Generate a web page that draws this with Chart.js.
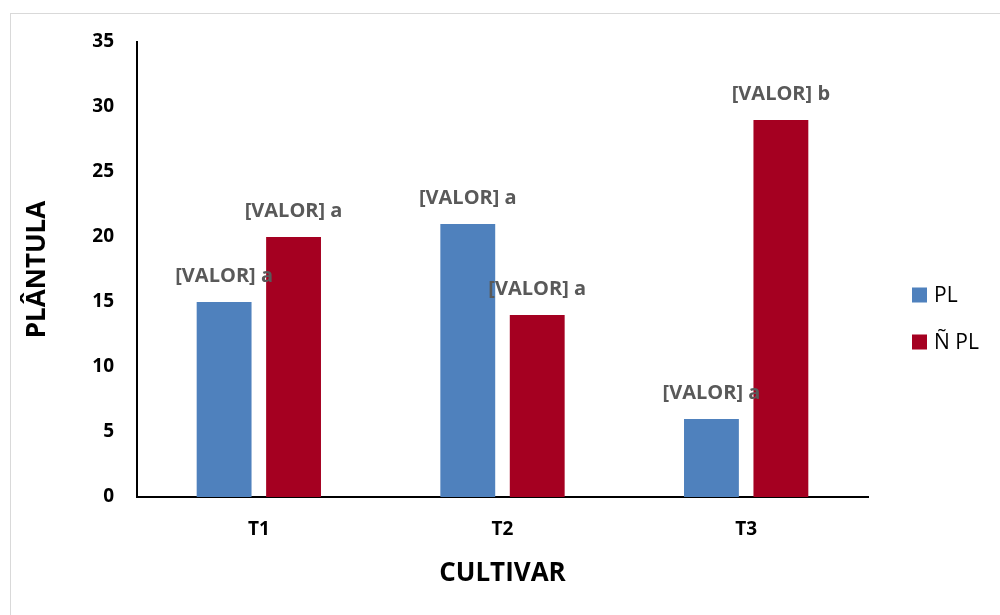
<!DOCTYPE html>
<html>
<head>
<meta charset="utf-8">
<script src="https://cdn.jsdelivr.net/npm/chart.js@4"></script>
<style>
  body { margin: 0; overflow: hidden; background: #fff; }
  #frame { position: absolute; left: 10px; top: 13px; width: 1000px; height: 700px; border: 1px solid #d9d9d9; }
  #wrap { position: absolute; left: 0; top: 0; width: 1000px; height: 615px; }
</style>
</head>
<body>
<div id="frame"></div>
<div id="wrap"><canvas id="chart" width="1000" height="615"></canvas></div>
<script>
// chart data
const categories = ['T1', 'T2', 'T3'];
const plValues = [15, 21, 6];
const nplValues = [20, 14, 29];
const plLetters = ['a', 'a', 'a'];
const nplLetters = ['a', 'a', 'b'];
const yTicks = [0, 5, 10, 15, 20, 25, 30, 35];

const FONT = '"Open Sans", Lato, sans-serif';

// draws "[VALOR] x" above each bar
const barLabels = {
  id: 'barLabels',
  afterDatasetsDraw(chart) {
    const ctx = chart.ctx;
    ctx.save();
    ctx.font = 'bold 20px ' + FONT;
    ctx.fillStyle = '#595959';
    ctx.textAlign = 'center';
    ctx.textBaseline = 'middle';
    chart.data.datasets.forEach((ds, i) => {
      const meta = chart.getDatasetMeta(i);
      meta.data.forEach((bar, j) => {
        ctx.fillText('[VALOR] ' + ds.letters[j], bar.x, bar.y - 26);
      });
    });
    ctx.restore();
  }
};

// simple legend on the right side
const sideLegend = {
  id: 'sideLegend',
  afterDraw(chart) {
    const ctx = chart.ctx;
    ctx.save();
    ctx.font = '21px ' + FONT;
    ctx.textBaseline = 'middle';
    chart.data.datasets.forEach((ds, i) => {
      const y = 295 + i * 47;
      ctx.fillStyle = ds.backgroundColor;
      ctx.fillRect(912, y - 7.5, 15, 15);
      ctx.fillStyle = '#000';
      ctx.fillText(ds.label, 934, y + 1);
    });
    ctx.restore();
  }
};

new Chart(document.getElementById('chart'), {
  type: 'bar',
  data: {
    labels: categories,
    datasets: [
      { label: 'PL', data: plValues, letters: plLetters, backgroundColor: '#4F81BD' },
      { label: 'Ñ PL', data: nplValues, letters: nplLetters, backgroundColor: '#A50021' }
    ]
  },
  options: {
    responsive: false,
    animation: false,
    layout: { padding: { top: 42, right: 132, bottom: 0, left: 0 } },
    datasets: { bar: { categoryPercentage: 0.57, barPercentage: 0.79 } },
    plugins: {
      legend: { display: false },
      tooltip: { enabled: false }
    },
    scales: {
      x: {
        grid: { display: false, drawTicks: false },
        border: { color: '#000', width: 2 },
        ticks: { color: '#000', font: { family: FONT, size: 19, weight: 'bold' }, padding: 21 },
        title: { display: true, text: 'CULTIVAR', color: '#000', font: { family: FONT, size: 26, weight: 'bold' }, padding: { top: 0, bottom: 26 } },
        afterFit(scale) { scale.height = 118; }
      },
      y: {
        min: 0,
        max: 35,
        grid: { display: false, drawTicks: false },
        border: { color: '#000', width: 2 },
        afterBuildTicks(scale) { scale.ticks = yTicks.map(v => ({ value: v })); },
        ticks: { color: '#000', font: { family: FONT, size: 19, weight: 'bold' }, padding: 23 },
        title: { display: true, text: 'PLÂNTULA', color: '#000', font: { family: FONT, size: 26, weight: 'bold' }, padding: { top: 22, bottom: 0 } },
        afterFit(scale) { scale.width = 137; }
      }
    }
  },
  plugins: [barLabels, sideLegend]
});
</script>
</body>
</html>
